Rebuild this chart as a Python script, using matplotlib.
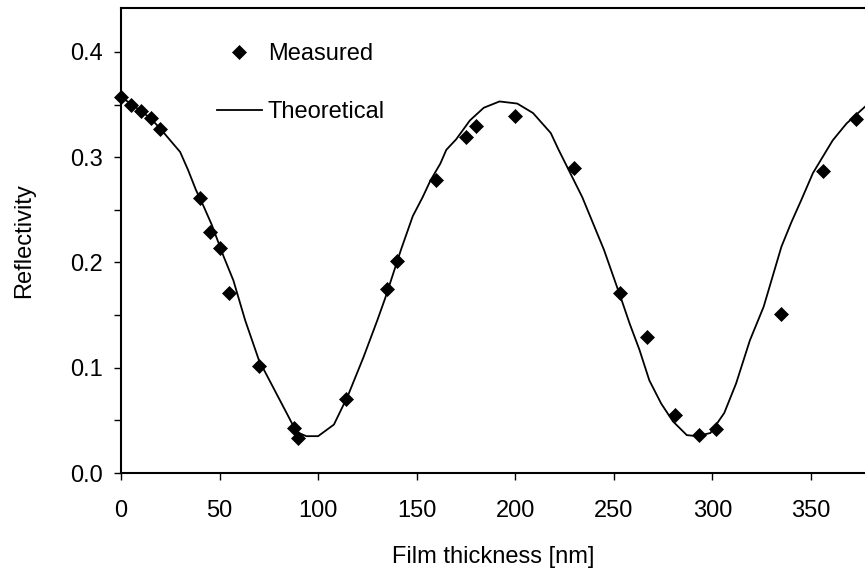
import matplotlib
matplotlib.use("Agg")
import matplotlib.pyplot as plt
from matplotlib.ticker import MultipleLocator

plt.rcParams["font.family"] = ["Liberation Sans", "DejaVu Sans"]

# Measured reflectivity vs. film thickness
measured_thickness = [0, 5, 10, 15, 20, 40, 45, 50, 55, 70, 88, 90, 114, 135, 140,
                      160, 175, 180, 200, 230, 253, 267, 281, 293, 302, 335, 356, 373]
measured_reflectivity = [0.357, 0.350, 0.344, 0.337, 0.327, 0.261, 0.229, 0.2135, 0.171,
                         0.102, 0.043, 0.033, 0.0706, 0.175, 0.201, 0.278, 0.319, 0.330,
                         0.339, 0.290, 0.171, 0.129, 0.055, 0.036, 0.042, 0.151, 0.287, 0.336]

# Theoretical curve
theory_thickness = [0, 5, 10, 15, 20, 30, 34, 38, 42, 46, 52, 57, 63, 70, 77, 84, 89, 94,
                    100, 108, 115, 123, 130, 134, 142, 148, 153, 157, 162, 165, 170, 177,
                    184, 192, 201, 209, 218, 222, 226, 234, 245, 254, 258, 263, 268, 274,
                    280, 287, 292, 299, 306, 312, 319, 326, 335, 340, 345, 351, 361, 368, 378]
theory_reflectivity = [0.357, 0.351, 0.344, 0.337, 0.327, 0.305, 0.288, 0.269, 0.253, 0.236,
                       0.206, 0.183, 0.145, 0.107, 0.082, 0.057, 0.039, 0.035, 0.035, 0.046,
                       0.073, 0.110, 0.145, 0.166, 0.212, 0.244, 0.262, 0.278, 0.294, 0.307,
                       0.317, 0.335, 0.347, 0.353, 0.351, 0.342, 0.323, 0.307, 0.292, 0.262,
                       0.212, 0.164, 0.142, 0.117, 0.088, 0.066, 0.049, 0.036, 0.035, 0.038,
                       0.057, 0.085, 0.126, 0.158, 0.215, 0.238, 0.259, 0.285, 0.316, 0.332,
                       0.349]

x_ticks = [0, 50, 100, 150, 200, 250, 300, 350]
y_ticks = [0.0, 0.1, 0.2, 0.3, 0.4]

FS = 17

fig = plt.figure(figsize=(8.65, 5.8), dpi=100)
ax = fig.add_axes([121 / 865, 107 / 580, 1 - 121 / 865, (473 - 8.3) / 580])

ax.plot(theory_thickness, theory_reflectivity, color="black", lw=1.3,
        label="Theoretical", zorder=2)
ax.plot(measured_thickness, measured_reflectivity, linestyle="none", marker="D",
        markersize=7.2, color="black", markeredgewidth=0.5, label="Measured",
        zorder=3, clip_on=False)

ax.set_xlim(0, 377.4)
ax.set_ylim(0, 0.4415)
ax.set_xticks(x_ticks)
ax.set_yticks(y_ticks)
ax.set_yticklabels([f"{v:.1f}" for v in y_ticks])
ax.yaxis.set_minor_locator(MultipleLocator(0.05))

for side in ("left", "top", "bottom"):
    ax.spines[side].set_linewidth(1.5)
ax.spines["right"].set_visible(False)

ax.tick_params(axis="both", which="both", direction="out", length=5.3, width=1.0,
               labelsize=FS, colors="black")
ax.tick_params(axis="x", pad=14)
ax.tick_params(axis="y", pad=8)

ax.set_xlabel("Film thickness [nm]", fontsize=FS)
ax.set_ylabel("Reflectivity", fontsize=FS)
ax.xaxis.set_label_coords(0.4997, -0.157)
ax.yaxis.set_label_coords(-0.115, 0.5)

handles, labels = ax.get_legend_handles_labels()
leg = ax.legend(handles[::-1], labels[::-1], loc="upper left",
                bbox_to_anchor=(217 / 865, 1 - 43.5 / 580), bbox_transform=fig.transFigure,
                frameon=False, fontsize=FS, handlelength=1.9, handletextpad=0.25,
                labelspacing=1.5, borderpad=0, borderaxespad=0)

fig.savefig("out.png", dpi=100)
